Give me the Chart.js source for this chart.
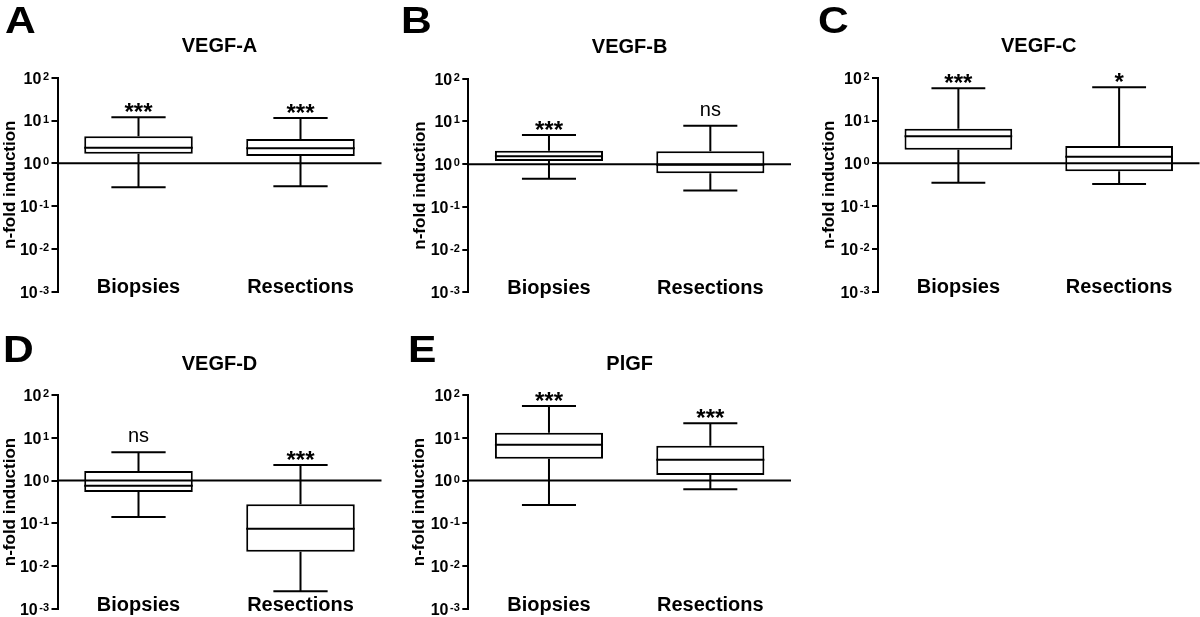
<!DOCTYPE html>
<html><head><meta charset="utf-8">
<script src="https://cdn.jsdelivr.net/npm/chart.js@4.4.0/dist/chart.umd.min.js"></script>
<style>
html,body{margin:0;padding:0;background:#fff;}
#wrap{position:relative;width:1200px;height:617px;overflow:hidden;background:#fff;}
canvas{position:absolute;}
</style></head><body>
<div id="wrap">
<canvas id="c0" width="400" height="305" style="left:0px;top:0px"></canvas>
<canvas id="c1" width="400" height="305" style="left:400px;top:0px"></canvas>
<canvas id="c2" width="400" height="305" style="left:800px;top:0px"></canvas>
<canvas id="c3" width="400" height="312" style="left:0px;top:305px"></canvas>
<canvas id="c4" width="400" height="312" style="left:400px;top:305px"></canvas>
</div>
<script>
// ---- data ----
const categories = ['Biopsies', 'Resections'];
const panelLetters = ['A', 'B', 'C', 'D', 'E'];
const panelTitles = ['VEGF-A', 'VEGF-B', 'VEGF-C', 'VEGF-D', 'PlGF'];
const yAxisTitle = 'n-fold induction';
const yTickValues = [100, 10, 1, 0.1, 0.01, 0.001];
const yTickExponents = ['2', '1', '0', '-1', '-2', '-3'];
// each row: [Biopsies, Resections]
const whiskerMin = [[0.275, 0.29], [0.455, 0.243], [0.35, 0.33], [0.141, 0.0026], [0.27, 0.63]];
const quartile1  = [[1.67, 1.48], [1.18, 0.61], [2.08, 0.65], [0.54, 0.0218], [3.25, 1.35]];
const medians    = [[2.3, 2.24], [1.52, 0.97], [4.3, 1.43], [0.76, 0.075], [6.9, 3.08]];
const quartile3  = [[4.3, 3.7], [2.06, 2.0], [6.4, 2.54], [1.67, 0.28], [13.2, 6.5]];
const whiskerMax = [[11.9, 11.4], [4.8, 7.9], [56.5, 59.7], [4.6, 2.31], [55, 21.8]];
const significance = [['***', '***'], ['***', 'ns'], ['***', '*'], ['ns', '***'], ['***', '***']];

// ---- layout (pixels) ----
const layouts = [
  {w: 400, h: 305, area: {l: 57.5, r: 381.5, t: 77.7, b: 291.7}, padLeft: 0,  letter: {x: 5,   y: 33.3}},
  {w: 400, h: 305, area: {l: 68.3, r: 391,   t: 78.7, b: 292.3}, padLeft: 10, letter: {x: 1,   y: 33.3}},
  {w: 400, h: 305, area: {l: 78,   r: 399.5, t: 77.7, b: 291.7}, padLeft: 19, letter: {x: 18,  y: 33.3}},
  {w: 400, h: 312, area: {l: 57.5, r: 381.5, t: 90,   b: 304},   padLeft: 0,  letter: {x: 3,   y: 56.7}},
  {w: 400, h: 312, area: {l: 68.3, r: 391,   t: 90,   b: 304},   padLeft: 9,  letter: {x: 8,   y: 56.7}}
];
const FAM = "'Liberation Sans', Arial, Helvetica, sans-serif";

function makePanel(p) {
  const L = layouts[p];
  const canvas = document.getElementById('c' + p);
  const boxData = categories.map((c, i) => [quartile1[p][i], quartile3[p][i]]);

  const boxPlugin = {
    id: 'boxExtras' + p,
    afterDatasetsDraw(chart) {
      const ctx = chart.ctx, xs = chart.scales.x, ys = chart.scales.y, a = chart.chartArea;
      const meta = chart.getDatasetMeta(0);
      ctx.save();
      ctx.strokeStyle = '#000';
      ctx.lineWidth = 2;
      ctx.lineCap = 'butt';
      categories.forEach((c, i) => {
        const cx = xs.getPixelForValue(i);
        const w = meta.data[i].width;
        const yMax = ys.getPixelForValue(whiskerMax[p][i]);
        const yMin = ys.getPixelForValue(whiskerMin[p][i]);
        const yQ1 = ys.getPixelForValue(quartile1[p][i]);
        const yQ3 = ys.getPixelForValue(quartile3[p][i]);
        const yMed = ys.getPixelForValue(medians[p][i]);
        ctx.beginPath();
        ctx.moveTo(cx, yQ3); ctx.lineTo(cx, yMax);
        ctx.moveTo(cx - w / 4, yMax); ctx.lineTo(cx + w / 4, yMax);
        ctx.moveTo(cx, yQ1); ctx.lineTo(cx, yMin);
        ctx.moveTo(cx - w / 4, yMin); ctx.lineTo(cx + w / 4, yMin);
        ctx.moveTo(cx - w / 2, yMed); ctx.lineTo(cx + w / 2, yMed);
        ctx.stroke();
      });
      const y1 = ys.getPixelForValue(1);
      ctx.beginPath();
      ctx.moveTo(a.left, y1); ctx.lineTo(a.right, y1);
      ctx.stroke();
      ctx.restore();
    },
    afterDraw(chart) {
      const ctx = chart.ctx, xs = chart.scales.x, ys = chart.scales.y, a = chart.chartArea;
      ctx.save();
      ctx.fillStyle = '#000';
      // panel letter (wide heavy face)
      ctx.save();
      ctx.font = 'bold 37px ' + FAM;
      ctx.textAlign = 'left'; ctx.textBaseline = 'alphabetic';
      ctx.translate(L.letter.x, L.letter.y);
      ctx.scale(1.15, 1);
      ctx.fillText(panelLetters[p], 0, 0);
      ctx.restore();
      // title
      ctx.font = 'bold 20px ' + FAM;
      ctx.textAlign = 'center';
      ctx.textBaseline = 'alphabetic';
      ctx.fillText(panelTitles[p], (a.left + a.right) / 2, a.top - 25.5);
      // category labels
      categories.forEach((c, i) => {
        ctx.font = 'bold 20px ' + FAM;
        ctx.textAlign = 'center';
        ctx.fillText(c, xs.getPixelForValue(i), a.bottom + 1.5);
        // significance
        const sig = significance[p][i];
        const yMax = ys.getPixelForValue(whiskerMax[p][i]);
        if (sig === 'ns') {
          ctx.font = '20px ' + FAM;
          ctx.fillText(sig, xs.getPixelForValue(i), yMax - 10);
        } else {
          ctx.font = 'bold 24px ' + FAM;
          ctx.fillText(sig, xs.getPixelForValue(i), yMax + 3);
        }
      });
      // y tick labels 10^n
      const right = a.left - 8.5;
      yTickValues.forEach((v, k) => {
        const y = ys.getPixelForValue(v);
        ctx.font = 'bold 11px ' + FAM;
        const ew = ctx.measureText(yTickExponents[k]).width;
        ctx.textAlign = 'left';
        ctx.fillText(yTickExponents[k], right - ew, y + 2);
        ctx.font = 'bold 16px ' + FAM;
        const bw = ctx.measureText('10').width;
        ctx.fillText('10', right - ew - 1.5 - bw, y + 5.8);
      });
      ctx.restore();
    }
  };

  return new Chart(canvas, {
    type: 'bar',
    data: {
      labels: categories,
      datasets: [{
        data: boxData,
        backgroundColor: '#fff',
        borderColor: '#000',
        borderWidth: 2,
        borderSkipped: false,
        barPercentage: 0.67,
        categoryPercentage: 1
      }]
    },
    options: {
      responsive: false,
      animation: false,
      devicePixelRatio: 1,
      layout: {padding: {left: L.padLeft, right: L.w - L.area.r, top: L.area.t, bottom: L.h - L.area.b}},
      plugins: {legend: {display: false}, tooltip: {enabled: false}, title: {display: false}},
      scales: {
        x: {type: 'category', display: false},
        y: {
          type: 'logarithmic', position: 'left', min: 0.001, max: 100,
          afterBuildTicks: s => { s.ticks = yTickValues.map(v => ({value: v})); },
          afterFit: s => { s.width = L.area.l - L.padLeft; },
          grid: {drawOnChartArea: false, drawTicks: true, tickLength: 6, color: '#000', lineWidth: 2},
          border: {display: true, color: '#000', width: 2},
          ticks: {display: false},
          title: {display: true, text: yAxisTitle, color: '#000', padding: 0,
                  font: {family: FAM, size: 17, weight: 'bold'}}
        }
      }
    },
    plugins: [boxPlugin]
  });
}
for (let p = 0; p < 5; p++) makePanel(p);
</script>
</body></html>
